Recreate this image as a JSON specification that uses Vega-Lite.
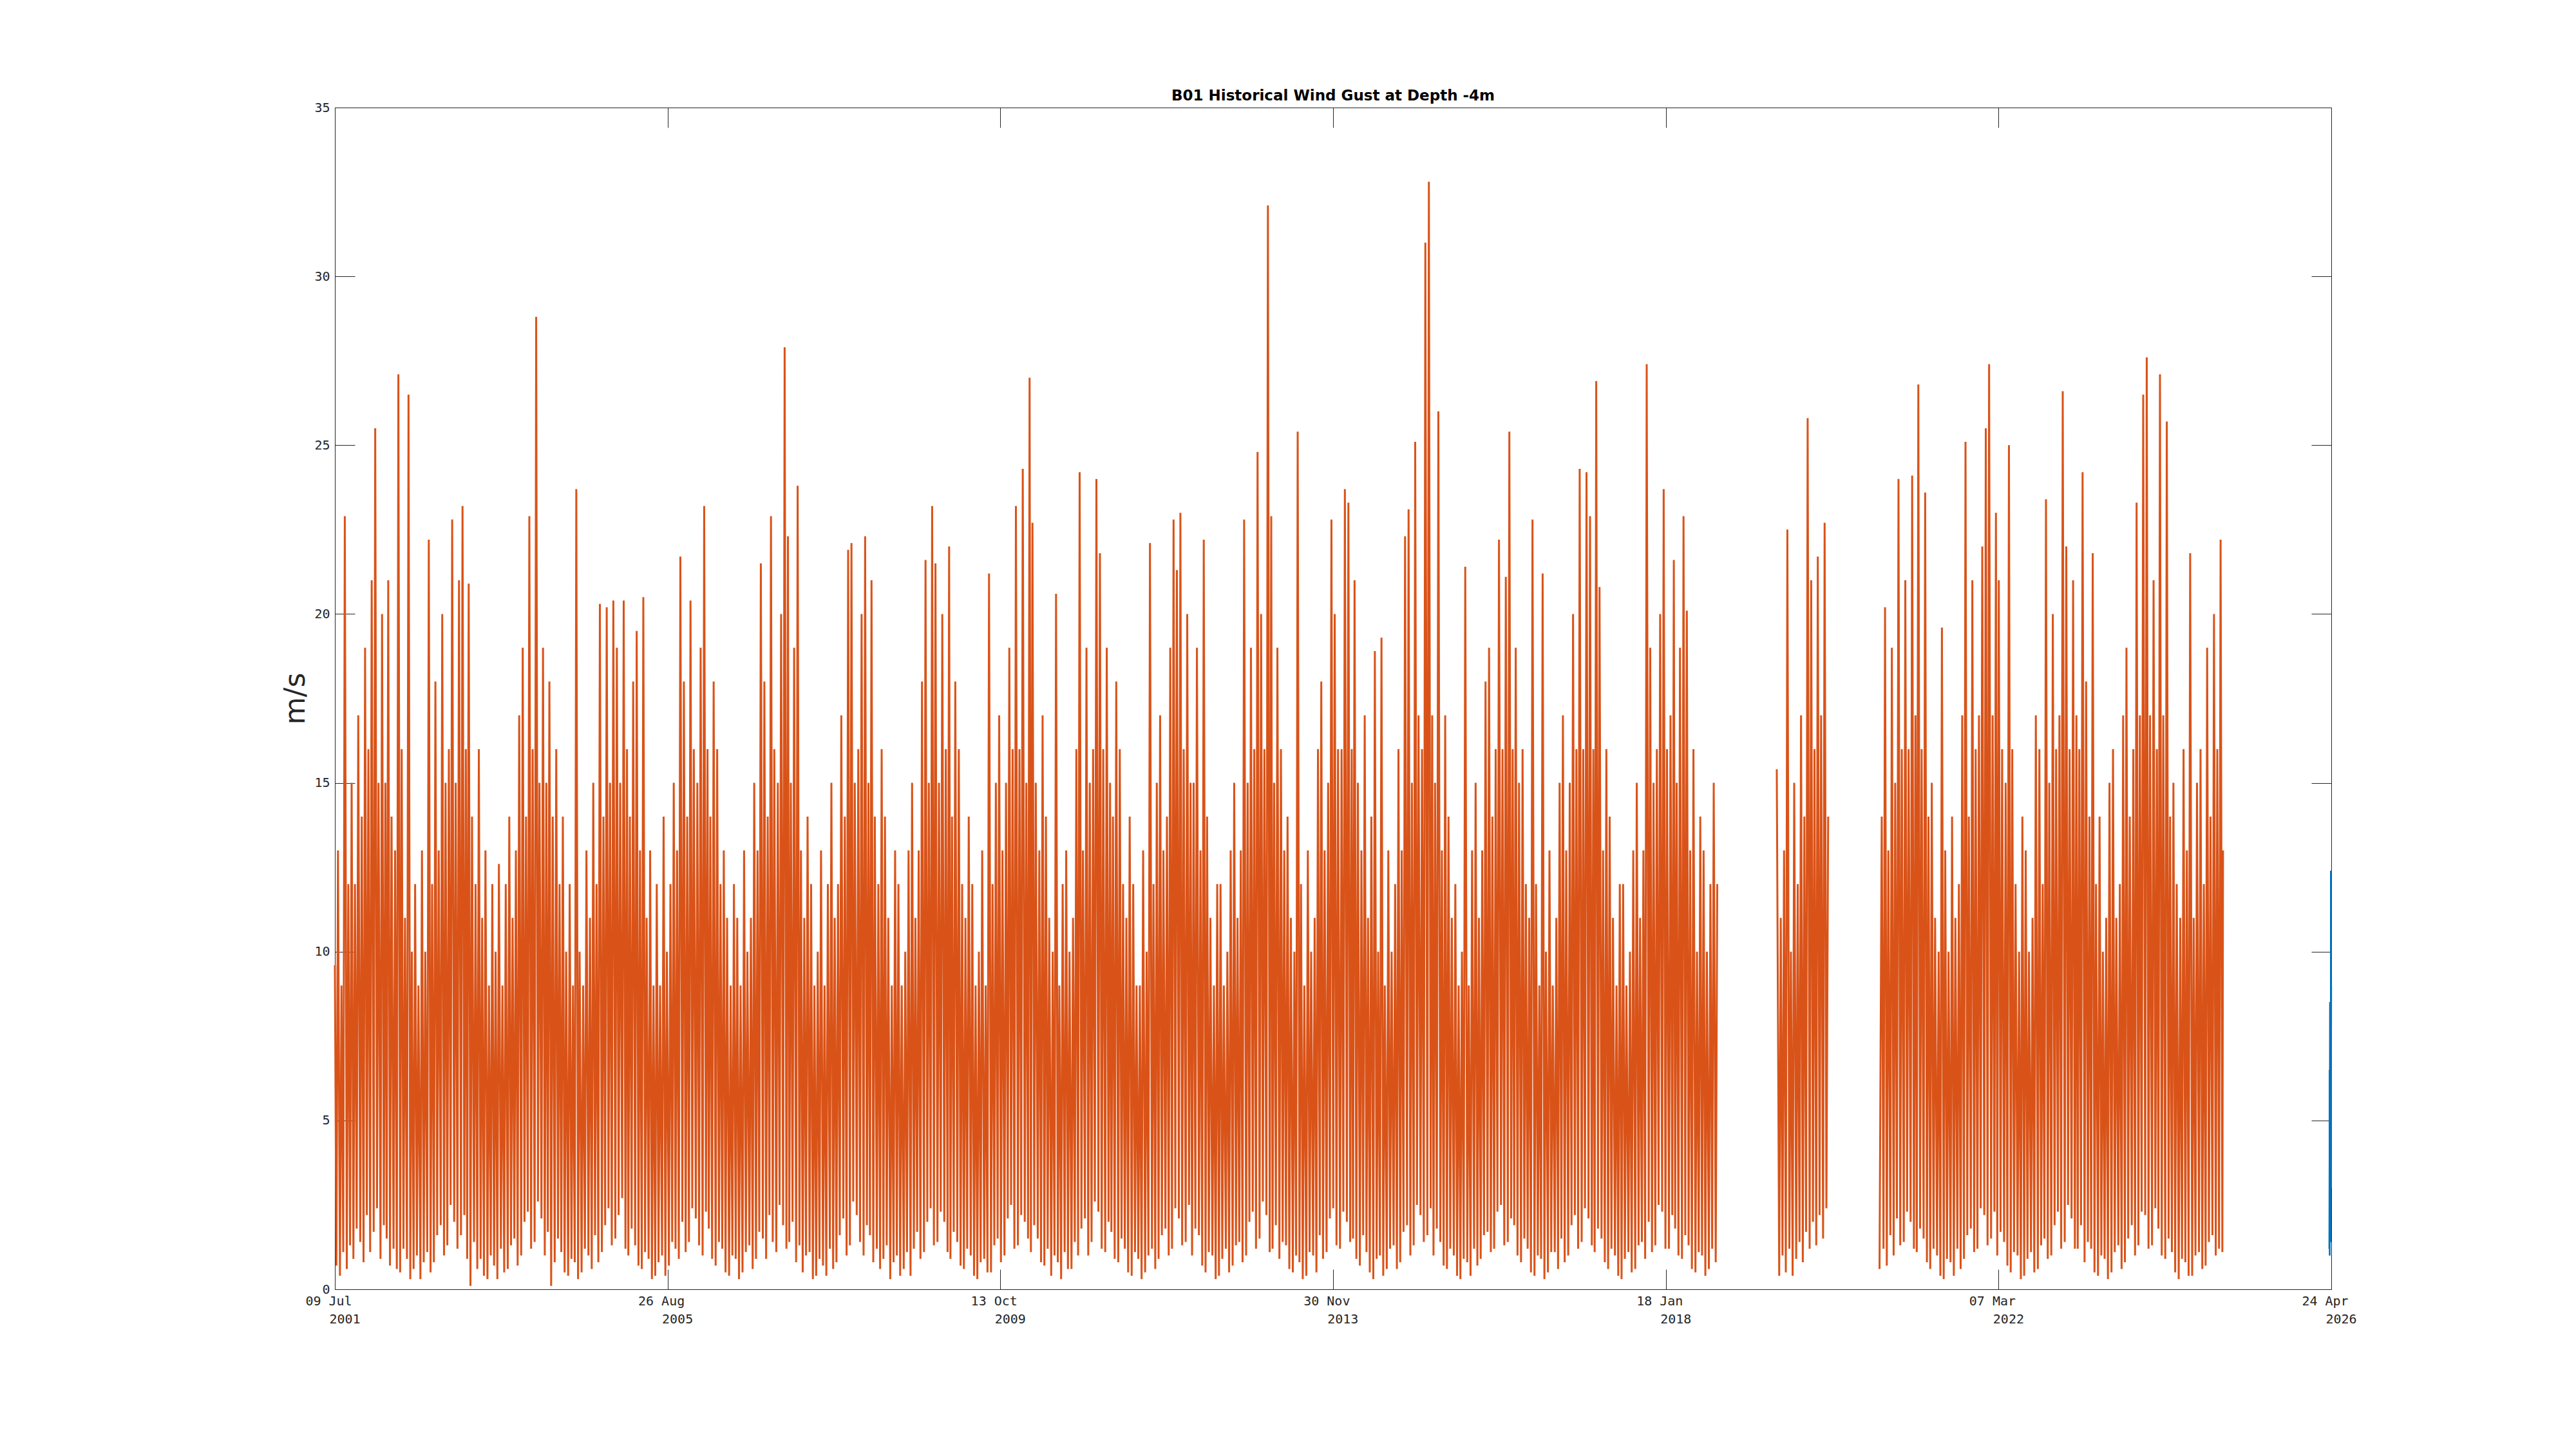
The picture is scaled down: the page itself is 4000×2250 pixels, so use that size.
{
"$schema": "https://vega.github.io/schema/vega-lite/v6.json",
"width": 3100,
"height": 1835,
"autosize": {"type": "none"},
"padding": {"left": 520, "top": 167, "right": 380, "bottom": 248},
"background": "white",
"title": {"text": "B01 Historical Wind Gust at Depth -4m", "font": "DejaVu Sans", "fontSize": 23, "fontWeight": "bold", "color": "black", "anchor": "middle", "offset": 9, "dy": 13},
"config": {
  "view": {"stroke": null},
  "axis": {"domainColor": "#262626", "domainWidth": 1, "tickColor": "#262626", "tickWidth": 1, "tickSize": -31, "grid": false, "labelFont": "DejaVu Sans Mono", "labelFontSize": 20, "labelColor": "#262626", "labelFlush": false, "labelOverlap": false, "labelBound": false}
},
"datasets": {
"hist": [
{"t":"2001-07-09","v":9.6},{"t":"2001-07-16","v":0.7},{"t":"2001-07-23","v":13},
{"t":"2001-08-01","v":0.4},{"t":"2001-08-08","v":9},{"t":"2001-08-16","v":1.1},{"t":"2001-08-23","v":22.9},
{"t":"2001-09-01","v":0.6},{"t":"2001-09-08","v":12},{"t":"2001-09-16","v":1.3},{"t":"2001-09-23","v":15},
{"t":"2001-10-01","v":0.9},{"t":"2001-10-08","v":12},{"t":"2001-10-16","v":1.8},{"t":"2001-10-23","v":17},
{"t":"2001-11-01","v":1.4},{"t":"2001-11-08","v":14},{"t":"2001-11-16","v":0.8},{"t":"2001-11-23","v":19},
{"t":"2001-12-01","v":2.2},{"t":"2001-12-08","v":16},{"t":"2001-12-16","v":1.1},{"t":"2001-12-23","v":21},
{"t":"2002-01-01","v":1.7},{"t":"2002-01-08","v":25.5},{"t":"2002-01-16","v":2.4},{"t":"2002-01-23","v":15},
{"t":"2002-02-01","v":0.9},{"t":"2002-02-08","v":20},{"t":"2002-02-16","v":1.9},{"t":"2002-02-23","v":15},
{"t":"2002-03-01","v":1.5},{"t":"2002-03-08","v":21},{"t":"2002-03-16","v":0.7},{"t":"2002-03-23","v":14},
{"t":"2002-04-01","v":1.2},{"t":"2002-04-08","v":13},{"t":"2002-04-16","v":0.6},{"t":"2002-04-23","v":27.1},
{"t":"2002-05-01","v":0.5},{"t":"2002-05-08","v":16},{"t":"2002-05-16","v":1.2},{"t":"2002-05-23","v":11},
{"t":"2002-06-01","v":0.9},{"t":"2002-06-08","v":26.5},{"t":"2002-06-16","v":0.3},{"t":"2002-06-23","v":10},
{"t":"2002-07-01","v":0.6},{"t":"2002-07-08","v":12},{"t":"2002-07-16","v":1.0},{"t":"2002-07-23","v":9},
{"t":"2002-08-01","v":0.3},{"t":"2002-08-08","v":13},{"t":"2002-08-16","v":0.8},{"t":"2002-08-23","v":10},
{"t":"2002-09-01","v":1.1},{"t":"2002-09-08","v":22.2},{"t":"2002-09-16","v":0.5},{"t":"2002-09-23","v":12},
{"t":"2002-10-01","v":0.8},{"t":"2002-10-08","v":18},{"t":"2002-10-16","v":1.6},{"t":"2002-10-23","v":13},
{"t":"2002-11-01","v":1.9},{"t":"2002-11-08","v":20},{"t":"2002-11-16","v":1.0},{"t":"2002-11-23","v":15},
{"t":"2002-12-01","v":1.3},{"t":"2002-12-08","v":16},{"t":"2002-12-16","v":2.5},{"t":"2002-12-23","v":22.8},
{"t":"2003-01-01","v":2.0},{"t":"2003-01-08","v":15},{"t":"2003-01-16","v":1.2},{"t":"2003-01-23","v":21},
{"t":"2003-02-01","v":1.6},{"t":"2003-02-08","v":23.2},{"t":"2003-02-16","v":2.2},{"t":"2003-02-23","v":16},
{"t":"2003-03-01","v":0.9},{"t":"2003-03-08","v":20.9},{"t":"2003-03-16","v":0.1},{"t":"2003-03-23","v":14},
{"t":"2003-04-01","v":1.4},{"t":"2003-04-08","v":12},{"t":"2003-04-16","v":0.6},{"t":"2003-04-23","v":16},
{"t":"2003-05-01","v":0.9},{"t":"2003-05-08","v":11},{"t":"2003-05-16","v":0.4},{"t":"2003-05-23","v":13},
{"t":"2003-06-01","v":0.3},{"t":"2003-06-08","v":9},{"t":"2003-06-16","v":1.0},{"t":"2003-06-23","v":12},
{"t":"2003-07-01","v":0.7},{"t":"2003-07-08","v":10},{"t":"2003-07-16","v":0.3},{"t":"2003-07-23","v":12.6},
{"t":"2003-08-01","v":1.2},{"t":"2003-08-08","v":9},{"t":"2003-08-16","v":0.5},{"t":"2003-08-23","v":12},
{"t":"2003-09-01","v":0.6},{"t":"2003-09-08","v":14},{"t":"2003-09-16","v":1.3},{"t":"2003-09-23","v":11},
{"t":"2003-10-01","v":1.5},{"t":"2003-10-08","v":13},{"t":"2003-10-16","v":0.7},{"t":"2003-10-23","v":17},
{"t":"2003-11-01","v":1.0},{"t":"2003-11-08","v":19},{"t":"2003-11-16","v":2.0},{"t":"2003-11-23","v":14},
{"t":"2003-12-01","v":2.3},{"t":"2003-12-08","v":22.9},{"t":"2003-12-16","v":1.2},{"t":"2003-12-23","v":16},
{"t":"2004-01-01","v":1.4},{"t":"2004-01-08","v":28.8},{"t":"2004-01-16","v":2.6},{"t":"2004-01-23","v":15},
{"t":"2004-02-01","v":2.1},{"t":"2004-02-08","v":19},{"t":"2004-02-16","v":1.0},{"t":"2004-02-23","v":15},
{"t":"2004-03-01","v":1.7},{"t":"2004-03-08","v":18},{"t":"2004-03-16","v":0.1},{"t":"2004-03-23","v":14},
{"t":"2004-04-01","v":0.8},{"t":"2004-04-08","v":16},{"t":"2004-04-16","v":1.5},{"t":"2004-04-23","v":12},
{"t":"2004-05-01","v":1.1},{"t":"2004-05-08","v":14},{"t":"2004-05-16","v":0.5},{"t":"2004-05-23","v":10},
{"t":"2004-06-01","v":0.4},{"t":"2004-06-08","v":12},{"t":"2004-06-16","v":0.9},{"t":"2004-06-23","v":9},
{"t":"2004-07-01","v":0.8},{"t":"2004-07-08","v":23.7},{"t":"2004-07-16","v":0.3},{"t":"2004-07-23","v":10},
{"t":"2004-08-01","v":0.5},{"t":"2004-08-08","v":9},{"t":"2004-08-16","v":1.2},{"t":"2004-08-23","v":13},
{"t":"2004-09-01","v":1.0},{"t":"2004-09-08","v":11},{"t":"2004-09-16","v":0.6},{"t":"2004-09-23","v":15},
{"t":"2004-10-01","v":1.6},{"t":"2004-10-08","v":12},{"t":"2004-10-16","v":0.8},{"t":"2004-10-23","v":20.3},
{"t":"2004-11-01","v":1.1},{"t":"2004-11-08","v":14},{"t":"2004-11-16","v":1.9},{"t":"2004-11-23","v":20.2},
{"t":"2004-12-01","v":2.4},{"t":"2004-12-08","v":15},{"t":"2004-12-16","v":1.3},{"t":"2004-12-23","v":20.4},
{"t":"2005-01-01","v":1.5},{"t":"2005-01-08","v":19},{"t":"2005-01-16","v":2.2},{"t":"2005-01-23","v":15},
{"t":"2005-02-01","v":2.7},{"t":"2005-02-08","v":20.4},{"t":"2005-02-16","v":1.2},{"t":"2005-02-23","v":16},
{"t":"2005-03-01","v":1.0},{"t":"2005-03-08","v":14},{"t":"2005-03-16","v":1.8},{"t":"2005-03-23","v":18},
{"t":"2005-04-01","v":1.3},{"t":"2005-04-08","v":19.5},{"t":"2005-04-16","v":0.7},{"t":"2005-04-23","v":13},
{"t":"2005-05-01","v":0.6},{"t":"2005-05-08","v":20.5},{"t":"2005-05-16","v":1.1},{"t":"2005-05-23","v":11},
{"t":"2005-06-01","v":0.9},{"t":"2005-06-08","v":13},{"t":"2005-06-16","v":0.3},{"t":"2005-06-23","v":9},
{"t":"2005-07-01","v":0.4},{"t":"2005-07-08","v":12},{"t":"2005-07-16","v":0.8},{"t":"2005-07-23","v":9},
{"t":"2005-08-01","v":1.0},{"t":"2005-08-08","v":14},{"t":"2005-08-16","v":0.4},{"t":"2005-08-23","v":10},
{"t":"2005-09-01","v":0.7},{"t":"2005-09-08","v":12},{"t":"2005-09-16","v":1.4},{"t":"2005-09-23","v":15},
{"t":"2005-10-01","v":1.2},{"t":"2005-10-08","v":13},{"t":"2005-10-16","v":0.9},{"t":"2005-10-23","v":21.7},
{"t":"2005-11-01","v":2.0},{"t":"2005-11-08","v":18},{"t":"2005-11-16","v":1.1},{"t":"2005-11-23","v":14},
{"t":"2005-12-01","v":1.4},{"t":"2005-12-08","v":20.4},{"t":"2005-12-16","v":2.4},{"t":"2005-12-23","v":16},
{"t":"2006-01-01","v":2.1},{"t":"2006-01-08","v":15},{"t":"2006-01-16","v":1.3},{"t":"2006-01-23","v":19},
{"t":"2006-02-01","v":1.0},{"t":"2006-02-08","v":23.2},{"t":"2006-02-16","v":2.3},{"t":"2006-02-23","v":16},
{"t":"2006-03-01","v":1.8},{"t":"2006-03-08","v":14},{"t":"2006-03-16","v":0.9},{"t":"2006-03-23","v":18},
{"t":"2006-04-01","v":0.7},{"t":"2006-04-08","v":16},{"t":"2006-04-16","v":1.4},{"t":"2006-04-23","v":12},
{"t":"2006-05-01","v":1.2},{"t":"2006-05-08","v":13},{"t":"2006-05-16","v":0.5},{"t":"2006-05-23","v":11},
{"t":"2006-06-01","v":0.4},{"t":"2006-06-08","v":9},{"t":"2006-06-16","v":1.0},{"t":"2006-06-23","v":12},
{"t":"2006-07-01","v":0.9},{"t":"2006-07-08","v":11},{"t":"2006-07-16","v":0.3},{"t":"2006-07-23","v":9},
{"t":"2006-08-01","v":0.5},{"t":"2006-08-08","v":13},{"t":"2006-08-16","v":1.1},{"t":"2006-08-23","v":10},
{"t":"2006-09-01","v":1.3},{"t":"2006-09-08","v":11},{"t":"2006-09-16","v":0.6},{"t":"2006-09-23","v":15},
{"t":"2006-10-01","v":0.9},{"t":"2006-10-08","v":13},{"t":"2006-10-16","v":1.7},{"t":"2006-10-23","v":21.5},
{"t":"2006-11-01","v":1.5},{"t":"2006-11-08","v":18},{"t":"2006-11-16","v":0.9},{"t":"2006-11-23","v":14},
{"t":"2006-12-01","v":2.2},{"t":"2006-12-08","v":22.9},{"t":"2006-12-16","v":1.4},{"t":"2006-12-23","v":16},
{"t":"2007-01-01","v":1.1},{"t":"2007-01-08","v":15},{"t":"2007-01-16","v":2.5},{"t":"2007-01-23","v":20},
{"t":"2007-02-01","v":1.9},{"t":"2007-02-08","v":27.9},{"t":"2007-02-16","v":1.2},{"t":"2007-02-23","v":22.3},
{"t":"2007-03-01","v":1.4},{"t":"2007-03-08","v":15},{"t":"2007-03-16","v":2.0},{"t":"2007-03-23","v":19},
{"t":"2007-04-01","v":0.8},{"t":"2007-04-08","v":23.8},{"t":"2007-04-16","v":1.3},{"t":"2007-04-23","v":13},
{"t":"2007-05-01","v":0.5},{"t":"2007-05-08","v":11},{"t":"2007-05-16","v":1.0},{"t":"2007-05-23","v":14},
{"t":"2007-06-01","v":1.1},{"t":"2007-06-08","v":12},{"t":"2007-06-16","v":0.3},{"t":"2007-06-23","v":9},
{"t":"2007-07-01","v":0.4},{"t":"2007-07-08","v":10},{"t":"2007-07-16","v":0.9},{"t":"2007-07-23","v":13},
{"t":"2007-08-01","v":0.7},{"t":"2007-08-08","v":9},{"t":"2007-08-16","v":0.4},{"t":"2007-08-23","v":12},
{"t":"2007-09-01","v":1.2},{"t":"2007-09-08","v":15},{"t":"2007-09-16","v":0.6},{"t":"2007-09-23","v":11},
{"t":"2007-10-01","v":0.8},{"t":"2007-10-08","v":12},{"t":"2007-10-16","v":1.6},{"t":"2007-10-23","v":17},
{"t":"2007-11-01","v":2.1},{"t":"2007-11-08","v":14},{"t":"2007-11-16","v":1.0},{"t":"2007-11-23","v":21.9},
{"t":"2007-12-01","v":1.3},{"t":"2007-12-08","v":22.1},{"t":"2007-12-16","v":2.6},{"t":"2007-12-23","v":15},
{"t":"2008-01-01","v":2.2},{"t":"2008-01-08","v":16},{"t":"2008-01-16","v":1.4},{"t":"2008-01-23","v":20},
{"t":"2008-02-01","v":1.0},{"t":"2008-02-08","v":22.3},{"t":"2008-02-16","v":1.9},{"t":"2008-02-23","v":15},
{"t":"2008-03-01","v":1.6},{"t":"2008-03-08","v":21.0},{"t":"2008-03-16","v":0.8},{"t":"2008-03-23","v":14},
{"t":"2008-04-01","v":1.2},{"t":"2008-04-08","v":12},{"t":"2008-04-16","v":0.6},{"t":"2008-04-23","v":16},
{"t":"2008-05-01","v":0.9},{"t":"2008-05-08","v":14},{"t":"2008-05-16","v":1.3},{"t":"2008-05-23","v":11},
{"t":"2008-06-01","v":0.3},{"t":"2008-06-08","v":9},{"t":"2008-06-16","v":0.8},{"t":"2008-06-23","v":13},
{"t":"2008-07-01","v":1.0},{"t":"2008-07-08","v":12},{"t":"2008-07-16","v":0.4},{"t":"2008-07-23","v":9},
{"t":"2008-08-01","v":0.6},{"t":"2008-08-08","v":10},{"t":"2008-08-16","v":1.1},{"t":"2008-08-23","v":13},
{"t":"2008-09-01","v":0.4},{"t":"2008-09-08","v":15},{"t":"2008-09-16","v":1.2},{"t":"2008-09-23","v":11},
{"t":"2008-10-01","v":1.7},{"t":"2008-10-08","v":13},{"t":"2008-10-16","v":0.9},{"t":"2008-10-23","v":18},
{"t":"2008-11-01","v":1.1},{"t":"2008-11-08","v":21.6},{"t":"2008-11-16","v":2.0},{"t":"2008-11-23","v":15},
{"t":"2008-12-01","v":2.4},{"t":"2008-12-08","v":23.2},{"t":"2008-12-16","v":1.3},{"t":"2008-12-23","v":21.5},
{"t":"2009-01-01","v":1.4},{"t":"2009-01-08","v":15},{"t":"2009-01-16","v":2.3},{"t":"2009-01-23","v":20},
{"t":"2009-02-01","v":2.0},{"t":"2009-02-08","v":16},{"t":"2009-02-16","v":1.1},{"t":"2009-02-23","v":22.0},
{"t":"2009-03-01","v":0.9},{"t":"2009-03-08","v":14},{"t":"2009-03-16","v":1.7},{"t":"2009-03-23","v":18},
{"t":"2009-04-01","v":1.4},{"t":"2009-04-08","v":16},{"t":"2009-04-16","v":0.7},{"t":"2009-04-23","v":12},
{"t":"2009-05-01","v":0.6},{"t":"2009-05-08","v":11},{"t":"2009-05-16","v":1.2},{"t":"2009-05-23","v":14},
{"t":"2009-06-01","v":1.0},{"t":"2009-06-08","v":12},{"t":"2009-06-16","v":0.4},{"t":"2009-06-23","v":9},
{"t":"2009-07-01","v":0.3},{"t":"2009-07-08","v":10},{"t":"2009-07-16","v":0.8},{"t":"2009-07-23","v":13},
{"t":"2009-08-01","v":0.9},{"t":"2009-08-08","v":9},{"t":"2009-08-16","v":0.5},{"t":"2009-08-23","v":21.2},
{"t":"2009-09-01","v":0.5},{"t":"2009-09-08","v":12},{"t":"2009-09-16","v":1.3},{"t":"2009-09-23","v":15},
{"t":"2009-10-01","v":1.5},{"t":"2009-10-08","v":17},{"t":"2009-10-16","v":0.8},{"t":"2009-10-23","v":13},
{"t":"2009-11-01","v":1.0},{"t":"2009-11-08","v":15},{"t":"2009-11-16","v":2.1},{"t":"2009-11-23","v":19},
{"t":"2009-12-01","v":2.5},{"t":"2009-12-08","v":16},{"t":"2009-12-16","v":1.2},{"t":"2009-12-23","v":23.2},
{"t":"2010-01-01","v":1.3},{"t":"2010-01-08","v":16},{"t":"2010-01-16","v":2.2},{"t":"2010-01-23","v":24.3},
{"t":"2010-02-01","v":2.0},{"t":"2010-02-08","v":15},{"t":"2010-02-16","v":1.5},{"t":"2010-02-23","v":27.0},
{"t":"2010-03-01","v":1.1},{"t":"2010-03-08","v":22.7},{"t":"2010-03-16","v":1.9},{"t":"2010-03-23","v":15},
{"t":"2010-04-01","v":1.5},{"t":"2010-04-08","v":13},{"t":"2010-04-16","v":0.8},{"t":"2010-04-23","v":17},
{"t":"2010-05-01","v":0.7},{"t":"2010-05-08","v":14},{"t":"2010-05-16","v":1.2},{"t":"2010-05-23","v":11},
{"t":"2010-06-01","v":0.4},{"t":"2010-06-08","v":10},{"t":"2010-06-16","v":1.0},{"t":"2010-06-23","v":20.6},
{"t":"2010-07-01","v":0.8},{"t":"2010-07-08","v":9},{"t":"2010-07-16","v":0.3},{"t":"2010-07-23","v":12},
{"t":"2010-08-01","v":1.1},{"t":"2010-08-08","v":13},{"t":"2010-08-16","v":0.6},{"t":"2010-08-23","v":10},
{"t":"2010-09-01","v":0.6},{"t":"2010-09-08","v":11},{"t":"2010-09-16","v":1.4},{"t":"2010-09-23","v":16},
{"t":"2010-10-01","v":1.0},{"t":"2010-10-08","v":24.2},{"t":"2010-10-16","v":1.8},{"t":"2010-10-23","v":13},
{"t":"2010-11-01","v":2.1},{"t":"2010-11-08","v":19},{"t":"2010-11-16","v":1.0},{"t":"2010-11-23","v":15},
{"t":"2010-12-01","v":1.4},{"t":"2010-12-08","v":16},{"t":"2010-12-16","v":2.6},{"t":"2010-12-23","v":24.0},
{"t":"2011-01-01","v":2.3},{"t":"2011-01-08","v":21.8},{"t":"2011-01-16","v":1.2},{"t":"2011-01-23","v":16},
{"t":"2011-02-01","v":1.1},{"t":"2011-02-08","v":19},{"t":"2011-02-16","v":2.0},{"t":"2011-02-23","v":15},
{"t":"2011-03-01","v":1.7},{"t":"2011-03-08","v":14},{"t":"2011-03-16","v":0.9},{"t":"2011-03-23","v":18},
{"t":"2011-04-01","v":0.8},{"t":"2011-04-08","v":16},{"t":"2011-04-16","v":1.5},{"t":"2011-04-23","v":12},
{"t":"2011-05-01","v":1.2},{"t":"2011-05-08","v":11},{"t":"2011-05-16","v":0.5},{"t":"2011-05-23","v":14},
{"t":"2011-06-01","v":0.4},{"t":"2011-06-08","v":12},{"t":"2011-06-16","v":1.1},{"t":"2011-06-23","v":9},
{"t":"2011-07-01","v":0.9},{"t":"2011-07-08","v":9},{"t":"2011-07-16","v":0.3},{"t":"2011-07-23","v":13},
{"t":"2011-08-01","v":0.5},{"t":"2011-08-08","v":10},{"t":"2011-08-16","v":1.0},{"t":"2011-08-23","v":22.1},
{"t":"2011-09-01","v":1.2},{"t":"2011-09-08","v":12},{"t":"2011-09-16","v":0.6},{"t":"2011-09-23","v":15},
{"t":"2011-10-01","v":0.9},{"t":"2011-10-08","v":17},{"t":"2011-10-16","v":1.6},{"t":"2011-10-23","v":13},
{"t":"2011-11-01","v":1.8},{"t":"2011-11-08","v":14},{"t":"2011-11-16","v":1.0},{"t":"2011-11-23","v":19},
{"t":"2011-12-01","v":1.2},{"t":"2011-12-08","v":22.8},{"t":"2011-12-16","v":2.4},{"t":"2011-12-23","v":21.3},
{"t":"2012-01-01","v":2.1},{"t":"2012-01-08","v":23.0},{"t":"2012-01-16","v":1.3},{"t":"2012-01-23","v":16},
{"t":"2012-02-01","v":1.4},{"t":"2012-02-08","v":20},{"t":"2012-02-16","v":2.5},{"t":"2012-02-23","v":15},
{"t":"2012-03-01","v":1.0},{"t":"2012-03-08","v":15},{"t":"2012-03-16","v":1.8},{"t":"2012-03-23","v":19},
{"t":"2012-04-01","v":1.6},{"t":"2012-04-08","v":13},{"t":"2012-04-16","v":0.7},{"t":"2012-04-23","v":22.2},
{"t":"2012-05-01","v":0.5},{"t":"2012-05-08","v":14},{"t":"2012-05-16","v":1.1},{"t":"2012-05-23","v":11},
{"t":"2012-06-01","v":1.0},{"t":"2012-06-08","v":9},{"t":"2012-06-16","v":0.3},{"t":"2012-06-23","v":12},
{"t":"2012-07-01","v":0.4},{"t":"2012-07-08","v":12},{"t":"2012-07-16","v":0.9},{"t":"2012-07-23","v":9},
{"t":"2012-08-01","v":1.2},{"t":"2012-08-08","v":10},{"t":"2012-08-16","v":0.5},{"t":"2012-08-23","v":13},
{"t":"2012-09-01","v":0.7},{"t":"2012-09-08","v":15},{"t":"2012-09-16","v":1.3},{"t":"2012-09-23","v":11},
{"t":"2012-10-01","v":1.4},{"t":"2012-10-08","v":13},{"t":"2012-10-16","v":0.8},{"t":"2012-10-23","v":22.8},
{"t":"2012-11-01","v":1.0},{"t":"2012-11-08","v":15},{"t":"2012-11-16","v":2.0},{"t":"2012-11-23","v":19},
{"t":"2012-12-01","v":2.3},{"t":"2012-12-08","v":16},{"t":"2012-12-16","v":1.2},{"t":"2012-12-23","v":24.8},
{"t":"2013-01-01","v":1.5},{"t":"2013-01-08","v":20},{"t":"2013-01-16","v":2.6},{"t":"2013-01-23","v":16},
{"t":"2013-02-01","v":2.2},{"t":"2013-02-08","v":32.1},{"t":"2013-02-16","v":1.1},{"t":"2013-02-23","v":22.9},
{"t":"2013-03-01","v":1.2},{"t":"2013-03-08","v":15},{"t":"2013-03-16","v":1.9},{"t":"2013-03-23","v":19},
{"t":"2013-04-01","v":0.9},{"t":"2013-04-08","v":16},{"t":"2013-04-16","v":1.4},{"t":"2013-04-23","v":13},
{"t":"2013-05-01","v":1.3},{"t":"2013-05-08","v":14},{"t":"2013-05-16","v":0.6},{"t":"2013-05-23","v":11},
{"t":"2013-06-01","v":0.5},{"t":"2013-06-08","v":10},{"t":"2013-06-16","v":1.0},{"t":"2013-06-23","v":25.4},
{"t":"2013-07-01","v":0.8},{"t":"2013-07-08","v":12},{"t":"2013-07-16","v":0.3},{"t":"2013-07-23","v":9},
{"t":"2013-08-01","v":0.4},{"t":"2013-08-08","v":13},{"t":"2013-08-16","v":1.1},{"t":"2013-08-23","v":10},
{"t":"2013-09-01","v":1.0},{"t":"2013-09-08","v":11},{"t":"2013-09-16","v":0.5},{"t":"2013-09-23","v":16},
{"t":"2013-10-01","v":1.6},{"t":"2013-10-08","v":18},{"t":"2013-10-16","v":0.9},{"t":"2013-10-23","v":13},
{"t":"2013-11-01","v":1.1},{"t":"2013-11-08","v":15},{"t":"2013-11-16","v":2.1},{"t":"2013-11-23","v":22.8},
{"t":"2013-12-01","v":2.4},{"t":"2013-12-08","v":20},{"t":"2013-12-16","v":1.3},{"t":"2013-12-23","v":16},
{"t":"2014-01-01","v":1.2},{"t":"2014-01-08","v":16},{"t":"2014-01-16","v":2.3},{"t":"2014-01-23","v":23.7},
{"t":"2014-02-01","v":2.0},{"t":"2014-02-08","v":23.3},{"t":"2014-02-16","v":1.4},{"t":"2014-02-23","v":16},
{"t":"2014-03-01","v":1.5},{"t":"2014-03-08","v":21.0},{"t":"2014-03-16","v":0.9},{"t":"2014-03-23","v":15},
{"t":"2014-04-01","v":0.7},{"t":"2014-04-08","v":13},{"t":"2014-04-16","v":1.6},{"t":"2014-04-23","v":17},
{"t":"2014-05-01","v":1.1},{"t":"2014-05-08","v":11},{"t":"2014-05-16","v":0.5},{"t":"2014-05-23","v":14},
{"t":"2014-06-01","v":0.3},{"t":"2014-06-08","v":18.9},{"t":"2014-06-16","v":0.9},{"t":"2014-06-23","v":10},
{"t":"2014-07-01","v":1.0},{"t":"2014-07-08","v":19.3},{"t":"2014-07-16","v":0.4},{"t":"2014-07-23","v":9},
{"t":"2014-08-01","v":0.6},{"t":"2014-08-08","v":13},{"t":"2014-08-16","v":1.2},{"t":"2014-08-23","v":10},
{"t":"2014-09-01","v":1.3},{"t":"2014-09-08","v":12},{"t":"2014-09-16","v":0.6},{"t":"2014-09-23","v":16},
{"t":"2014-10-01","v":0.8},{"t":"2014-10-08","v":13},{"t":"2014-10-16","v":1.7},{"t":"2014-10-23","v":22.3},
{"t":"2014-11-01","v":1.9},{"t":"2014-11-08","v":23.1},{"t":"2014-11-16","v":1.0},{"t":"2014-11-23","v":15},
{"t":"2014-12-01","v":1.3},{"t":"2014-12-08","v":25.1},{"t":"2014-12-16","v":2.5},{"t":"2014-12-23","v":17},
{"t":"2015-01-01","v":2.2},{"t":"2015-01-08","v":16},{"t":"2015-01-16","v":1.4},{"t":"2015-01-23","v":31.0},
{"t":"2015-02-01","v":1.6},{"t":"2015-02-08","v":32.8},{"t":"2015-02-16","v":2.4},{"t":"2015-02-23","v":17},
{"t":"2015-03-01","v":1.0},{"t":"2015-03-08","v":15},{"t":"2015-03-16","v":1.8},{"t":"2015-03-23","v":26.0},
{"t":"2015-04-01","v":1.4},{"t":"2015-04-08","v":13},{"t":"2015-04-16","v":0.7},{"t":"2015-04-23","v":17},
{"t":"2015-05-01","v":0.6},{"t":"2015-05-08","v":14},{"t":"2015-05-16","v":1.2},{"t":"2015-05-23","v":11},
{"t":"2015-06-01","v":1.0},{"t":"2015-06-08","v":12},{"t":"2015-06-16","v":0.4},{"t":"2015-06-23","v":9},
{"t":"2015-07-01","v":0.3},{"t":"2015-07-08","v":10},{"t":"2015-07-16","v":0.9},{"t":"2015-07-23","v":21.4},
{"t":"2015-08-01","v":0.8},{"t":"2015-08-08","v":9},{"t":"2015-08-16","v":0.4},{"t":"2015-08-23","v":13},
{"t":"2015-09-01","v":1.2},{"t":"2015-09-08","v":15},{"t":"2015-09-16","v":0.7},{"t":"2015-09-23","v":11},
{"t":"2015-10-01","v":0.9},{"t":"2015-10-08","v":13},{"t":"2015-10-16","v":1.6},{"t":"2015-10-23","v":18},
{"t":"2015-11-01","v":1.7},{"t":"2015-11-08","v":19},{"t":"2015-11-16","v":1.1},{"t":"2015-11-23","v":14},
{"t":"2015-12-01","v":1.2},{"t":"2015-12-08","v":16},{"t":"2015-12-16","v":2.3},{"t":"2015-12-23","v":22.2},
{"t":"2016-01-01","v":2.5},{"t":"2016-01-08","v":16},{"t":"2016-01-16","v":1.3},{"t":"2016-01-23","v":21.1},
{"t":"2016-02-01","v":1.4},{"t":"2016-02-08","v":25.4},{"t":"2016-02-16","v":2.1},{"t":"2016-02-23","v":16},
{"t":"2016-03-01","v":1.9},{"t":"2016-03-08","v":19},{"t":"2016-03-16","v":1.0},{"t":"2016-03-23","v":15},
{"t":"2016-04-01","v":0.8},{"t":"2016-04-08","v":16},{"t":"2016-04-16","v":1.5},{"t":"2016-04-23","v":12},
{"t":"2016-05-01","v":1.2},{"t":"2016-05-08","v":11},{"t":"2016-05-16","v":0.5},{"t":"2016-05-23","v":22.8},
{"t":"2016-06-01","v":0.4},{"t":"2016-06-08","v":12},{"t":"2016-06-16","v":1.0},{"t":"2016-06-23","v":9},
{"t":"2016-07-01","v":0.9},{"t":"2016-07-08","v":21.2},{"t":"2016-07-16","v":0.3},{"t":"2016-07-23","v":10},
{"t":"2016-08-01","v":0.5},{"t":"2016-08-08","v":13},{"t":"2016-08-16","v":1.1},{"t":"2016-08-23","v":9},
{"t":"2016-09-01","v":1.1},{"t":"2016-09-08","v":11},{"t":"2016-09-16","v":0.6},{"t":"2016-09-23","v":15},
{"t":"2016-10-01","v":1.5},{"t":"2016-10-08","v":17},{"t":"2016-10-16","v":0.8},{"t":"2016-10-23","v":13},
{"t":"2016-11-01","v":1.0},{"t":"2016-11-08","v":15},{"t":"2016-11-16","v":1.9},{"t":"2016-11-23","v":20},
{"t":"2016-12-01","v":2.2},{"t":"2016-12-08","v":16},{"t":"2016-12-16","v":1.2},{"t":"2016-12-23","v":24.3},
{"t":"2017-01-01","v":1.4},{"t":"2017-01-08","v":16},{"t":"2017-01-16","v":2.4},{"t":"2017-01-23","v":24.2},
{"t":"2017-02-01","v":2.1},{"t":"2017-02-08","v":22.9},{"t":"2017-02-16","v":1.3},{"t":"2017-02-23","v":16},
{"t":"2017-03-01","v":1.1},{"t":"2017-03-08","v":26.9},{"t":"2017-03-16","v":1.8},{"t":"2017-03-23","v":20.8},
{"t":"2017-04-01","v":1.5},{"t":"2017-04-08","v":13},{"t":"2017-04-16","v":0.8},{"t":"2017-04-23","v":16},
{"t":"2017-05-01","v":0.6},{"t":"2017-05-08","v":14},{"t":"2017-05-16","v":1.2},{"t":"2017-05-23","v":11},
{"t":"2017-06-01","v":1.0},{"t":"2017-06-08","v":9},{"t":"2017-06-16","v":0.4},{"t":"2017-06-23","v":12},
{"t":"2017-07-01","v":0.3},{"t":"2017-07-08","v":12},{"t":"2017-07-16","v":0.9},{"t":"2017-07-23","v":9},
{"t":"2017-08-01","v":1.1},{"t":"2017-08-08","v":10},{"t":"2017-08-16","v":0.5},{"t":"2017-08-23","v":13},
{"t":"2017-09-01","v":0.6},{"t":"2017-09-08","v":15},{"t":"2017-09-16","v":1.3},{"t":"2017-09-23","v":11},
{"t":"2017-10-01","v":1.4},{"t":"2017-10-08","v":13},{"t":"2017-10-16","v":0.9},{"t":"2017-10-23","v":27.4},
{"t":"2017-11-01","v":2.0},{"t":"2017-11-08","v":19},{"t":"2017-11-16","v":1.1},{"t":"2017-11-23","v":15},
{"t":"2017-12-01","v":1.3},{"t":"2017-12-08","v":16},{"t":"2017-12-16","v":2.5},{"t":"2017-12-23","v":20},
{"t":"2018-01-01","v":2.3},{"t":"2018-01-08","v":23.7},{"t":"2018-01-16","v":1.2},{"t":"2018-01-23","v":16},
{"t":"2018-02-01","v":1.2},{"t":"2018-02-08","v":17},{"t":"2018-02-16","v":2.2},{"t":"2018-02-23","v":21.6},
{"t":"2018-03-01","v":1.8},{"t":"2018-03-08","v":15},{"t":"2018-03-16","v":1.0},{"t":"2018-03-23","v":19},
{"t":"2018-04-01","v":0.9},{"t":"2018-04-08","v":22.9},{"t":"2018-04-16","v":1.6},{"t":"2018-04-23","v":20.1},
{"t":"2018-05-01","v":1.3},{"t":"2018-05-08","v":13},{"t":"2018-05-16","v":0.6},{"t":"2018-05-23","v":16},
{"t":"2018-06-01","v":0.5},{"t":"2018-06-08","v":10},{"t":"2018-06-16","v":1.1},{"t":"2018-06-23","v":14},
{"t":"2018-07-01","v":1.0},{"t":"2018-07-08","v":13},{"t":"2018-07-16","v":0.4},{"t":"2018-07-23","v":10},
{"t":"2018-08-01","v":0.6},{"t":"2018-08-08","v":12},{"t":"2018-08-16","v":1.2},{"t":"2018-08-23","v":15},
{"t":"2018-09-01","v":0.8},{"t":"2018-09-08","v":12},
{"t":"2019-01-01","v":null},
{"t":"2019-06-05","v":15.4},{"t":"2019-06-16","v":0.4},{"t":"2019-06-23","v":11},
{"t":"2019-07-01","v":1.0},{"t":"2019-07-08","v":13},{"t":"2019-07-16","v":0.5},{"t":"2019-07-23","v":22.5},
{"t":"2019-08-01","v":1.2},{"t":"2019-08-08","v":10},{"t":"2019-08-16","v":0.4},{"t":"2019-08-23","v":15},
{"t":"2019-09-01","v":0.9},{"t":"2019-09-08","v":12},{"t":"2019-09-16","v":1.4},{"t":"2019-09-23","v":17},
{"t":"2019-10-01","v":0.8},{"t":"2019-10-08","v":14},{"t":"2019-10-16","v":1.7},{"t":"2019-10-23","v":25.8},
{"t":"2019-11-01","v":1.2},{"t":"2019-11-08","v":21},{"t":"2019-11-16","v":2.0},{"t":"2019-11-23","v":16},
{"t":"2019-12-01","v":1.3},{"t":"2019-12-08","v":21.7},{"t":"2019-12-16","v":2.2},{"t":"2019-12-23","v":17},
{"t":"2020-01-01","v":1.5},{"t":"2020-01-08","v":22.7},{"t":"2020-01-16","v":2.4},{"t":"2020-01-24","v":14},
{"t":"2020-05-01","v":null},
{"t":"2020-09-13","v":0.6},{"t":"2020-09-23","v":14},
{"t":"2020-10-01","v":1.2},{"t":"2020-10-08","v":20.2},{"t":"2020-10-16","v":0.7},{"t":"2020-10-23","v":13},
{"t":"2020-11-01","v":1.6},{"t":"2020-11-08","v":19},{"t":"2020-11-16","v":1.0},{"t":"2020-11-23","v":15},
{"t":"2020-12-01","v":2.1},{"t":"2020-12-08","v":24.0},{"t":"2020-12-16","v":1.3},{"t":"2020-12-23","v":16},
{"t":"2021-01-01","v":1.4},{"t":"2021-01-08","v":21},{"t":"2021-01-16","v":2.3},{"t":"2021-01-23","v":16},
{"t":"2021-02-01","v":2.0},{"t":"2021-02-08","v":24.1},{"t":"2021-02-16","v":1.2},{"t":"2021-02-23","v":17},
{"t":"2021-03-01","v":1.1},{"t":"2021-03-08","v":26.8},{"t":"2021-03-16","v":1.8},{"t":"2021-03-23","v":16},
{"t":"2021-04-01","v":1.5},{"t":"2021-04-08","v":23.6},{"t":"2021-04-16","v":0.8},{"t":"2021-04-23","v":14},
{"t":"2021-05-01","v":0.6},{"t":"2021-05-08","v":15},{"t":"2021-05-16","v":1.2},{"t":"2021-05-23","v":11},
{"t":"2021-06-01","v":1.0},{"t":"2021-06-08","v":10},{"t":"2021-06-16","v":0.4},{"t":"2021-06-23","v":19.6},
{"t":"2021-07-01","v":0.3},{"t":"2021-07-08","v":13},{"t":"2021-07-16","v":0.9},{"t":"2021-07-23","v":10},
{"t":"2021-08-01","v":0.8},{"t":"2021-08-08","v":14},{"t":"2021-08-16","v":0.4},{"t":"2021-08-23","v":11},
{"t":"2021-09-01","v":1.2},{"t":"2021-09-08","v":12},{"t":"2021-09-16","v":0.6},{"t":"2021-09-23","v":17},
{"t":"2021-10-01","v":0.9},{"t":"2021-10-08","v":25.1},{"t":"2021-10-16","v":1.6},{"t":"2021-10-23","v":14},
{"t":"2021-11-01","v":1.8},{"t":"2021-11-08","v":21},{"t":"2021-11-16","v":1.1},{"t":"2021-11-23","v":16},
{"t":"2021-12-01","v":1.2},{"t":"2021-12-08","v":17},{"t":"2021-12-16","v":2.4},{"t":"2021-12-23","v":22},
{"t":"2022-01-01","v":2.2},{"t":"2022-01-08","v":25.5},{"t":"2022-01-16","v":1.3},{"t":"2022-01-23","v":27.4},
{"t":"2022-02-01","v":1.5},{"t":"2022-02-08","v":17},{"t":"2022-02-16","v":2.3},{"t":"2022-02-23","v":23},
{"t":"2022-03-01","v":1.0},{"t":"2022-03-08","v":21},{"t":"2022-03-16","v":1.7},{"t":"2022-03-23","v":16},
{"t":"2022-04-01","v":1.4},{"t":"2022-04-08","v":15},{"t":"2022-04-16","v":0.7},{"t":"2022-04-23","v":25.0},
{"t":"2022-05-01","v":0.5},{"t":"2022-05-08","v":16},{"t":"2022-05-16","v":1.1},{"t":"2022-05-23","v":12},
{"t":"2022-06-01","v":1.0},{"t":"2022-06-08","v":10},{"t":"2022-06-16","v":0.3},{"t":"2022-06-23","v":14},
{"t":"2022-07-01","v":0.4},{"t":"2022-07-08","v":13},{"t":"2022-07-16","v":0.9},{"t":"2022-07-23","v":10},
{"t":"2022-08-01","v":1.1},{"t":"2022-08-08","v":11},{"t":"2022-08-16","v":0.5},{"t":"2022-08-23","v":17},
{"t":"2022-09-01","v":0.6},{"t":"2022-09-08","v":16},{"t":"2022-09-16","v":1.3},{"t":"2022-09-23","v":12},
{"t":"2022-10-01","v":1.5},{"t":"2022-10-08","v":23.4},{"t":"2022-10-16","v":0.9},{"t":"2022-10-23","v":15},
{"t":"2022-11-01","v":1.0},{"t":"2022-11-08","v":20},{"t":"2022-11-16","v":1.9},{"t":"2022-11-23","v":16},
{"t":"2022-12-01","v":2.3},{"t":"2022-12-08","v":17},{"t":"2022-12-16","v":1.2},{"t":"2022-12-23","v":26.6},
{"t":"2023-01-01","v":1.4},{"t":"2023-01-08","v":22},{"t":"2023-01-16","v":2.5},{"t":"2023-01-23","v":16},
{"t":"2023-02-01","v":2.1},{"t":"2023-02-08","v":21},{"t":"2023-02-16","v":1.2},{"t":"2023-02-23","v":17},
{"t":"2023-03-01","v":1.2},{"t":"2023-03-08","v":16},{"t":"2023-03-16","v":1.9},{"t":"2023-03-23","v":24.2},
{"t":"2023-04-01","v":0.8},{"t":"2023-04-08","v":18},{"t":"2023-04-16","v":1.4},{"t":"2023-04-23","v":14},
{"t":"2023-05-01","v":1.2},{"t":"2023-05-08","v":21.8},{"t":"2023-05-16","v":0.5},{"t":"2023-05-23","v":12},
{"t":"2023-06-01","v":0.4},{"t":"2023-06-08","v":14},{"t":"2023-06-16","v":1.0},{"t":"2023-06-23","v":10},
{"t":"2023-07-01","v":0.9},{"t":"2023-07-08","v":11},{"t":"2023-07-16","v":0.3},{"t":"2023-07-23","v":15},
{"t":"2023-08-01","v":0.5},{"t":"2023-08-08","v":16},{"t":"2023-08-16","v":1.1},{"t":"2023-08-23","v":11},
{"t":"2023-09-01","v":1.3},{"t":"2023-09-08","v":12},{"t":"2023-09-16","v":0.6},{"t":"2023-09-23","v":17},
{"t":"2023-10-01","v":0.8},{"t":"2023-10-08","v":19},{"t":"2023-10-16","v":1.5},{"t":"2023-10-23","v":14},
{"t":"2023-11-01","v":1.9},{"t":"2023-11-08","v":16},{"t":"2023-11-16","v":1.0},{"t":"2023-11-23","v":23.3},
{"t":"2023-12-01","v":1.3},{"t":"2023-12-08","v":17},{"t":"2023-12-16","v":2.3},{"t":"2023-12-23","v":26.5},
{"t":"2024-01-01","v":2.2},{"t":"2024-01-08","v":27.6},{"t":"2024-01-16","v":1.2},{"t":"2024-01-23","v":17},
{"t":"2024-02-01","v":1.3},{"t":"2024-02-08","v":21},{"t":"2024-02-16","v":2.4},{"t":"2024-02-23","v":16},
{"t":"2024-03-01","v":1.8},{"t":"2024-03-08","v":27.1},{"t":"2024-03-16","v":1.0},{"t":"2024-03-23","v":17},
{"t":"2024-04-01","v":0.9},{"t":"2024-04-08","v":25.7},{"t":"2024-04-16","v":1.5},{"t":"2024-04-23","v":14},
{"t":"2024-05-01","v":1.1},{"t":"2024-05-08","v":15},{"t":"2024-05-16","v":0.5},{"t":"2024-05-23","v":12},
{"t":"2024-06-01","v":0.3},{"t":"2024-06-08","v":11},{"t":"2024-06-16","v":0.9},{"t":"2024-06-23","v":16},
{"t":"2024-07-01","v":0.8},{"t":"2024-07-08","v":13},{"t":"2024-07-16","v":0.4},{"t":"2024-07-23","v":21.8},
{"t":"2024-08-01","v":0.4},{"t":"2024-08-08","v":11},{"t":"2024-08-16","v":1.0},{"t":"2024-08-23","v":15},
{"t":"2024-09-01","v":1.1},{"t":"2024-09-08","v":16},{"t":"2024-09-16","v":0.6},{"t":"2024-09-23","v":12},
{"t":"2024-10-01","v":0.7},{"t":"2024-10-08","v":19},{"t":"2024-10-16","v":1.4},{"t":"2024-10-23","v":14},
{"t":"2024-11-01","v":1.6},{"t":"2024-11-08","v":20},{"t":"2024-11-16","v":1.0},{"t":"2024-11-23","v":16},
{"t":"2024-12-01","v":1.2},{"t":"2024-12-08","v":22.2},{"t":"2024-12-16","v":1.1},{"t":"2024-12-19","v":13}
],
"now": [
{"t":"2026-04-15","v":1.2},{"t":"2026-04-16","v":6.5},{"t":"2026-04-17","v":1.0},{"t":"2026-04-18","v":8.5},{"t":"2026-04-19","v":2.0},{"t":"2026-04-20","v":5.0},{"t":"2026-04-21","v":1.4},{"t":"2026-04-22","v":12.4},{"t":"2026-04-23","v":3.0},{"t":"2026-04-24","v":9.0}
]
},
"layer": [
{
  "data": {"name": "hist"},
  "mark": {"type": "line", "color": "#D95319", "strokeWidth": 3, "invalid": "break-paths-show-domains"},
  "encoding": {
    "x": {"field": "t", "type": "temporal",
      "scale": {"domain": [{"year": 2001, "month": 7, "date": 9, "utc": true}, {"year": 2026, "month": 4, "date": 24, "utc": true}]},
      "axis": {"orient": "bottom", "title": null, "labelPadding": 39, "labelOffset": -10, "labelAlign": "center", "labelBaseline": "top", "labelExpr": "utcFormat(datum.value, '%d %b')",
        "values": [{"year": 2001, "month": 7, "date": 9, "utc": true}, {"year": 2005, "month": 8, "date": 26, "utc": true}, {"year": 2009, "month": 10, "date": 13, "utc": true}, {"year": 2013, "month": 11, "date": 30, "utc": true}, {"year": 2018, "month": 1, "date": 18, "utc": true}, {"year": 2022, "month": 3, "date": 7, "utc": true}, {"year": 2026, "month": 4, "date": 24, "utc": true}]}},
    "y": {"field": "v", "type": "quantitative",
      "scale": {"domain": [0, 35], "nice": false},
      "axis": {"orient": "left", "values": [0, 5, 10, 15, 20, 25, 30, 35], "format": "d", "labelPadding": 39, "title": "m/s", "titleFont": "DejaVu Sans", "titleFontSize": 44, "titleFontWeight": "normal", "titleColor": "#262626", "titlePadding": 6}}
  }
},
{
  "data": {"name": "now"},
  "mark": {"type": "line", "color": "#0072BD", "strokeWidth": 2.2},
  "encoding": {
    "x": {"field": "t", "type": "temporal",
      "scale": {"domain": [{"year": 2001, "month": 7, "date": 9, "utc": true}, {"year": 2026, "month": 4, "date": 24, "utc": true}]},
      "axis": {"orient": "bottom", "title": null, "domain": false, "ticks": false, "tickSize": 0, "labelPadding": 36, "labelOffset": 15, "labelAlign": "center", "labelBaseline": "top", "labelExpr": "utcFormat(datum.value, '%Y')",
        "values": [{"year": 2001, "month": 7, "date": 9, "utc": true}, {"year": 2005, "month": 8, "date": 26, "utc": true}, {"year": 2009, "month": 10, "date": 13, "utc": true}, {"year": 2013, "month": 11, "date": 30, "utc": true}, {"year": 2018, "month": 1, "date": 18, "utc": true}, {"year": 2022, "month": 3, "date": 7, "utc": true}, {"year": 2026, "month": 4, "date": 24, "utc": true}]}},
    "y": {"field": "v", "type": "quantitative",
      "scale": {"domain": [0, 35], "nice": false},
      "axis": {"orient": "right", "title": null, "labels": false, "values": [0, 5, 10, 15, 20, 25, 30, 35]}}
  }
},
{
  "data": {"name": "now"},
  "mark": {"type": "line", "color": "#0072BD", "strokeWidth": 2.2},
  "encoding": {
    "x": {"field": "t", "type": "temporal",
      "scale": {"domain": [{"year": 2001, "month": 7, "date": 9, "utc": true}, {"year": 2026, "month": 4, "date": 24, "utc": true}]},
      "axis": {"orient": "top", "title": null, "labels": false,
        "values": [{"year": 2001, "month": 7, "date": 9, "utc": true}, {"year": 2005, "month": 8, "date": 26, "utc": true}, {"year": 2009, "month": 10, "date": 13, "utc": true}, {"year": 2013, "month": 11, "date": 30, "utc": true}, {"year": 2018, "month": 1, "date": 18, "utc": true}, {"year": 2022, "month": 3, "date": 7, "utc": true}, {"year": 2026, "month": 4, "date": 24, "utc": true}]}},
    "y": {"field": "v", "type": "quantitative",
      "scale": {"domain": [0, 35], "nice": false},
      "axis": null}
  }
}
],
"resolve": {"axis": {"x": "independent", "y": "independent"}}
}
